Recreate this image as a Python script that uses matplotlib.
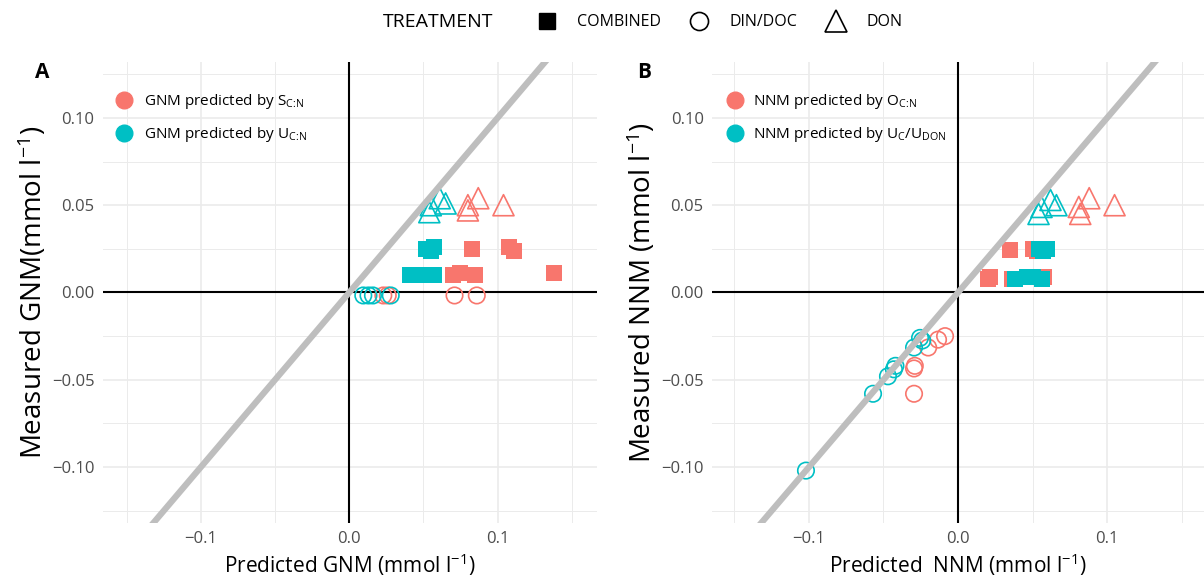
import numpy as np
import matplotlib.pyplot as plt
from matplotlib.lines import Line2D
from matplotlib.legend_handler import HandlerTuple

plt.rcParams['font.family'] = ['Open Sans', 'DejaVu Sans']
plt.rcParams['mathtext.fontset'] = 'custom'
plt.rcParams['mathtext.rm'] = 'Open Sans'
plt.rcParams['mathtext.it'] = 'Open Sans:italic'

RED = '#F8766D'
CYAN = '#00BFC4'

# ---- panel A : GNM (red = S C:N, cyan = U C:N)
a_red_comb_x = [0.083, 0.108, 0.111, 0.070, 0.075, 0.085, 0.138]
a_red_comb_y = [0.025, 0.026, 0.024, 0.010, 0.011, 0.010, 0.011]
a_cy_comb_x = [0.052, 0.057, 0.055, 0.041, 0.046, 0.051, 0.057]
a_cy_comb_y = [0.025, 0.026, 0.024, 0.010, 0.010, 0.010, 0.010]
a_red_dd_x = [0.023, 0.026, 0.071, 0.086]
a_red_dd_y = [-0.0017, -0.0017, -0.0017, -0.0017]
a_cy_dd_x = [0.0095, 0.013, 0.016, 0.028]
a_cy_dd_y = [-0.0017, -0.0017, -0.0017, -0.0017]
a_red_don_x = [0.080, 0.080, 0.087, 0.104]
a_red_don_y = [0.047, 0.050, 0.054, 0.050]
a_cy_don_x = [0.054, 0.055, 0.061, 0.065]
a_cy_don_y = [0.046, 0.050, 0.054, 0.051]

# ---- panel B : NNM (red = O C:N, cyan = Uc/UDON)
b_red_comb_x = [0.035, 0.050, 0.053, 0.020, 0.0215, 0.036, 0.058]
b_red_comb_y = [0.0246, 0.025, 0.024, 0.008, 0.009, 0.008, 0.0086]
b_cy_comb_x = [0.054, 0.060, 0.057, 0.038, 0.046, 0.050, 0.056]
b_cy_comb_y = [0.025, 0.025, 0.024, 0.0075, 0.009, 0.009, 0.0075]
b_red_dd_x = [-0.0295, -0.0295, -0.029, -0.020, -0.0134, -0.0087]
b_red_dd_y = [-0.058, -0.0435, -0.042, -0.0315, -0.027, -0.025]
b_cy_dd_x = [-0.102, -0.057, -0.047, -0.042, -0.043, -0.0295, -0.0255, -0.024]
b_cy_dd_y = [-0.102, -0.058, -0.048, -0.042, -0.044, -0.0315, -0.026, -0.0275]
b_red_don_x = [0.082, 0.081, 0.088, 0.105]
b_red_don_y = [0.045, 0.049, 0.054, 0.050]
b_cy_don_x = [0.054, 0.056, 0.062, 0.066]
b_cy_don_y = [0.045, 0.049, 0.053, 0.050]

x_major = [-0.1, 0.0, 0.1]
x_minor = [-0.15, -0.05, 0.05, 0.15]
y_major = [-0.10, -0.05, 0.0, 0.05, 0.10]
y_minor = [-0.125, -0.075, -0.025, 0.025, 0.075, 0.125]


def panel(ax, d, xlim):
    ax.set_xlim(xlim)
    ax.set_ylim(-0.132, 0.132)
    ax.set_xticks(x_major)
    ax.set_xticks(x_minor, minor=True)
    ax.set_yticks(y_major)
    ax.set_yticks(y_minor, minor=True)
    ax.set_xticklabels(['\u22120.1', '0.0', '0.1'])
    ax.set_yticklabels(['\u22120.10', '\u22120.05', '0.00', '0.05', '0.10'])
    ax.grid(which='major', color='#EBEBEB', lw=1.2)
    ax.grid(which='minor', color='#EBEBEB', lw=0.7)
    ax.set_axisbelow(True)
    for s in ax.spines.values():
        s.set_visible(False)
    ax.tick_params(which='both', length=0, labelsize=12, labelcolor='#4D4D4D', pad=6)
    ax.axhline(0, color='black', lw=1.5, zorder=1)
    ax.axvline(0, color='black', lw=1.5, zorder=1)
    for c, k in [(RED, 'red'), (CYAN, 'cy')]:
        ax.scatter(d[k + '_comb_x'], d[k + '_comb_y'], marker='s', s=145, color=c, lw=0, zorder=3)
        ax.scatter(d[k + '_dd_x'], d[k + '_dd_y'], marker='o', s=140, facecolor='none',
                   edgecolor=c, lw=1.2, zorder=3)
        ax.scatter(d[k + '_don_x'], d[k + '_don_y'], marker='^', s=230, facecolor='none',
                   edgecolor=c, lw=1.2, zorder=3)
    ax.axline((0, 0), slope=1, color='#BEBEBE', lw=4.5, zorder=4)


fig = plt.figure(figsize=(12.04, 5.84), dpi=100)
axA = fig.add_axes([0.0855, 0.1045, 0.4103, 0.7893])
axB = fig.add_axes([0.5914, 0.1045, 0.4086, 0.7893])

dA = dict(red_comb_x=a_red_comb_x, red_comb_y=a_red_comb_y, cy_comb_x=a_cy_comb_x, cy_comb_y=a_cy_comb_y,
          red_dd_x=a_red_dd_x, red_dd_y=a_red_dd_y, cy_dd_x=a_cy_dd_x, cy_dd_y=a_cy_dd_y,
          red_don_x=a_red_don_x, red_don_y=a_red_don_y, cy_don_x=a_cy_don_x, cy_don_y=a_cy_don_y)
dB = dict(red_comb_x=b_red_comb_x, red_comb_y=b_red_comb_y, cy_comb_x=b_cy_comb_x, cy_comb_y=b_cy_comb_y,
          red_dd_x=b_red_dd_x, red_dd_y=b_red_dd_y, cy_dd_x=b_cy_dd_x, cy_dd_y=b_cy_dd_y,
          red_don_x=b_red_don_x, red_don_y=b_red_don_y, cy_don_x=b_cy_don_x, cy_don_y=b_cy_don_y)
panel(axA, dA, (-0.166, 0.167))
panel(axB, dB, (-0.165, 0.165))

axA.set_xlabel('Predicted GNM (mmol l$^{-1}$)', fontsize=15, labelpad=3)
axA.set_ylabel('Measured GNM(mmol l$^{-1}$)', fontsize=20, labelpad=2)
axB.set_xlabel('Predicted  NNM (mmol l$^{-1}$)', fontsize=15, labelpad=3)
axB.set_ylabel('Measured NNM (mmol l$^{-1}$)', fontsize=20, labelpad=2)

# inner legends
bar = Line2D([], [], marker='|', color='white', ls='', markersize=14, mew=1.6)
hA = [(Line2D([], [], marker='o', color=RED, ls='', markersize=12), bar),
      (Line2D([], [], marker='o', color=CYAN, ls='', markersize=12), bar)]
axA.legend(hA, ['GNM predicted by S$_{\\mathrm{C}\\!:\\!\\mathrm{N}}$',
                'GNM predicted by U$_{\\mathrm{C}\\!:\\!\\mathrm{N}}$'],
           handler_map={tuple: HandlerTuple(ndivide=None)}, loc='upper left',
           bbox_to_anchor=(0.008, 0.965), frameon=False, fontsize=11, handlelength=1.2,
           handletextpad=0.3, labelspacing=0.95)
hB = [Line2D([], [], marker='o', color=RED, ls='', markersize=12),
      Line2D([], [], marker='o', color=CYAN, ls='', markersize=12)]
axB.legend(hB, ['NNM predicted by O$_{\\mathrm{C}\\!:\\!\\mathrm{N}}$',
                'NNM predicted by U$_{\\mathrm{C}}$/U$_{\\mathrm{DON}}$'],
           loc='upper left', bbox_to_anchor=(0.0, 0.965), frameon=False, fontsize=11,
           handlelength=1.2, handletextpad=0.6, labelspacing=0.95)

fig.text(0.029, 0.875, 'A', fontsize=15, fontweight='bold', va='center')
fig.text(0.529, 0.875, 'B', fontsize=15, fontweight='bold', va='center')

# treatment legend
fig.text(0.318, 0.962, 'TREATMENT', fontsize=14, va='center')
hT = [Line2D([], [], marker='s', color='black', ls='', markersize=12),
      Line2D([], [], marker='o', mfc='none', mec='black', ls='', markersize=13, mew=1.2),
      Line2D([], [], marker='^', mfc='none', mec='black', ls='', markersize=16, mew=1.2)]
fig.legend(hT, ['COMBINED', 'DIN/DOC', 'DON'], ncol=3, loc='center',
           bbox_to_anchor=(0.595, 0.962), frameon=False, fontsize=11.5,
           handletextpad=0.9, columnspacing=1.4)

fig.savefig('out.png', dpi=100)
